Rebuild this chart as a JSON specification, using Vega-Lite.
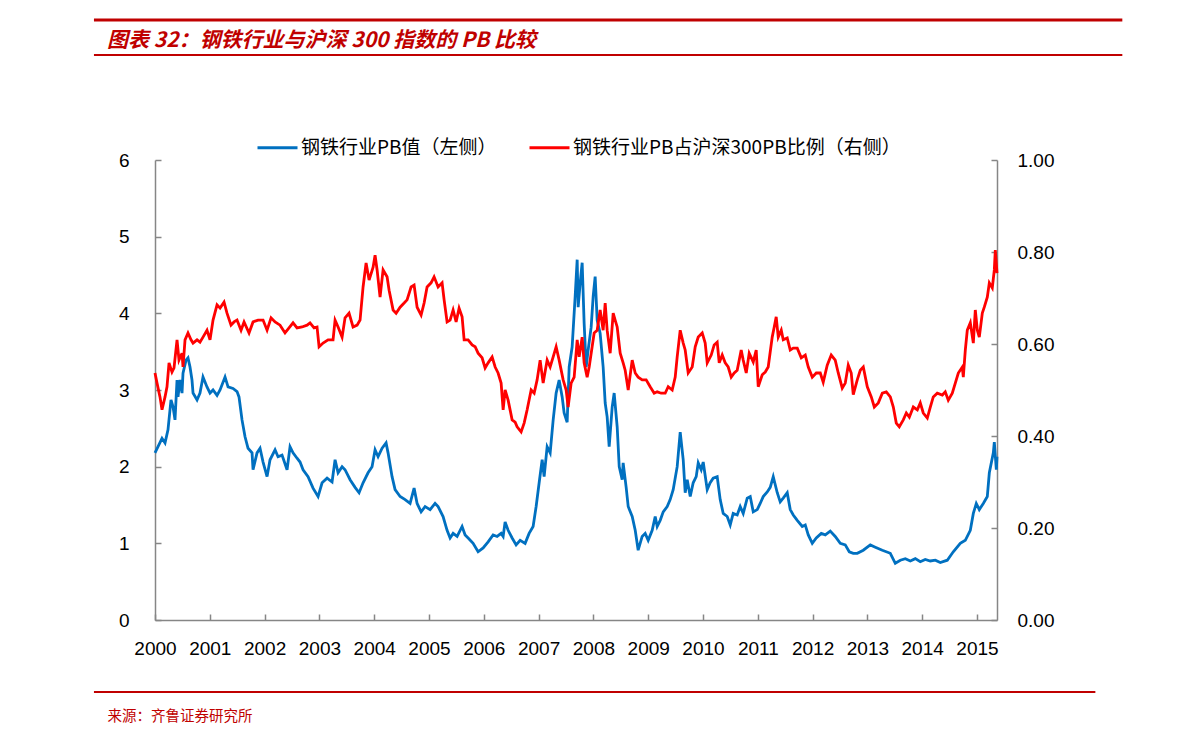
{
  "$schema": "https://vega.github.io/schema/vega-lite/v6.json",
  "width": 842,
  "height": 460,
  "autosize": "none",
  "padding": {"left": 155, "top": 160, "right": 194, "bottom": 122},
  "background": "white",
  "config": {"view": {"stroke": null}},
  "title": {
    "text": "图表 32：钢铁行业与沪深 300 指数的 PB 比较",
    "anchor": "start",
    "frame": "group",
    "dx": -48,
    "offset": 0,
    "dy": 49,
    "baseline": "alphabetic",
    "font": "Noto Sans CJK SC",
    "fontSize": 21,
    "fontWeight": "bold",
    "fontStyle": "italic",
    "color": "#C00000"
  },
  "datasets": {
    "pb": [
      {"t":2000.000,"v":2.18},{"t":2000.055,"v":2.26},{"t":2000.128,"v":2.37},{"t":2000.183,"v":2.31},{"t":2000.237,"v":2.48},{"t":2000.292,"v":2.87},{"t":2000.329,"v":2.78},{"t":2000.365,"v":2.61},{"t":2000.402,"v":3.13},{"t":2000.420,"v":2.91},{"t":2000.456,"v":3.13},{"t":2000.493,"v":2.96},{"t":2000.511,"v":3.22},{"t":2000.566,"v":3.39},{"t":2000.602,"v":3.42},{"t":2000.639,"v":3.30},{"t":2000.675,"v":3.13},{"t":2000.694,"v":2.96},{"t":2000.767,"v":2.87},{"t":2000.821,"v":2.96},{"t":2000.876,"v":3.17},{"t":2000.949,"v":3.04},{"t":2001.004,"v":2.96},{"t":2001.059,"v":3.00},{"t":2001.132,"v":2.93},{"t":2001.187,"v":3.00},{"t":2001.278,"v":3.17},{"t":2001.333,"v":3.04},{"t":2001.424,"v":3.02},{"t":2001.497,"v":2.98},{"t":2001.533,"v":2.91},{"t":2001.588,"v":2.61},{"t":2001.643,"v":2.39},{"t":2001.698,"v":2.24},{"t":2001.771,"v":2.18},{"t":2001.789,"v":1.96},{"t":2001.862,"v":2.18},{"t":2001.917,"v":2.24},{"t":2001.972,"v":2.06},{"t":2002.045,"v":1.87},{"t":2002.099,"v":2.09},{"t":2002.191,"v":2.22},{"t":2002.245,"v":2.13},{"t":2002.318,"v":2.15},{"t":2002.410,"v":1.96},{"t":2002.464,"v":2.26},{"t":2002.519,"v":2.18},{"t":2002.592,"v":2.11},{"t":2002.647,"v":2.06},{"t":2002.702,"v":1.96},{"t":2002.793,"v":1.87},{"t":2002.884,"v":1.72},{"t":2002.976,"v":1.61},{"t":2003.049,"v":1.79},{"t":2003.140,"v":1.85},{"t":2003.231,"v":1.80},{"t":2003.286,"v":2.09},{"t":2003.341,"v":1.92},{"t":2003.414,"v":2.00},{"t":2003.468,"v":1.96},{"t":2003.560,"v":1.83},{"t":2003.651,"v":1.73},{"t":2003.724,"v":1.66},{"t":2003.797,"v":1.79},{"t":2003.888,"v":1.92},{"t":2003.961,"v":2.00},{"t":2004.016,"v":2.22},{"t":2004.071,"v":2.13},{"t":2004.144,"v":2.24},{"t":2004.217,"v":2.31},{"t":2004.253,"v":2.18},{"t":2004.326,"v":1.87},{"t":2004.381,"v":1.70},{"t":2004.473,"v":1.61},{"t":2004.564,"v":1.57},{"t":2004.655,"v":1.52},{"t":2004.728,"v":1.72},{"t":2004.783,"v":1.52},{"t":2004.856,"v":1.41},{"t":2004.929,"v":1.48},{"t":2005.020,"v":1.44},{"t":2005.111,"v":1.52},{"t":2005.166,"v":1.48},{"t":2005.257,"v":1.35},{"t":2005.330,"v":1.17},{"t":2005.385,"v":1.07},{"t":2005.440,"v":1.13},{"t":2005.513,"v":1.09},{"t":2005.604,"v":1.22},{"t":2005.659,"v":1.11},{"t":2005.714,"v":1.07},{"t":2005.805,"v":1.00},{"t":2005.896,"v":0.89},{"t":2005.988,"v":0.94},{"t":2006.079,"v":1.02},{"t":2006.170,"v":1.11},{"t":2006.243,"v":1.09},{"t":2006.316,"v":1.13},{"t":2006.353,"v":1.09},{"t":2006.389,"v":1.28},{"t":2006.444,"v":1.17},{"t":2006.517,"v":1.07},{"t":2006.590,"v":0.98},{"t":2006.663,"v":1.04},{"t":2006.754,"v":1.00},{"t":2006.827,"v":1.13},{"t":2006.900,"v":1.22},{"t":2006.955,"v":1.48},{"t":2007.010,"v":1.79},{"t":2007.065,"v":2.09},{"t":2007.101,"v":1.87},{"t":2007.156,"v":2.26},{"t":2007.211,"v":2.18},{"t":2007.266,"v":2.61},{"t":2007.320,"v":2.96},{"t":2007.375,"v":3.13},{"t":2007.430,"v":2.91},{"t":2007.466,"v":2.70},{"t":2007.521,"v":2.58},{"t":2007.558,"v":3.30},{"t":2007.612,"v":3.56},{"t":2007.667,"v":4.22},{"t":2007.704,"v":4.70},{"t":2007.722,"v":4.08},{"t":2007.758,"v":4.39},{"t":2007.795,"v":4.66},{"t":2007.831,"v":3.87},{"t":2007.868,"v":3.30},{"t":2007.904,"v":3.52},{"t":2007.959,"v":3.82},{"t":2007.996,"v":4.22},{"t":2008.032,"v":4.48},{"t":2008.069,"v":3.91},{"t":2008.123,"v":3.74},{"t":2008.178,"v":3.30},{"t":2008.215,"v":2.83},{"t":2008.251,"v":2.65},{"t":2008.288,"v":2.26},{"t":2008.343,"v":2.78},{"t":2008.379,"v":2.96},{"t":2008.434,"v":2.52},{"t":2008.471,"v":2.00},{"t":2008.525,"v":1.83},{"t":2008.543,"v":2.05},{"t":2008.598,"v":1.73},{"t":2008.635,"v":1.48},{"t":2008.708,"v":1.35},{"t":2008.763,"v":1.17},{"t":2008.817,"v":0.91},{"t":2008.890,"v":1.09},{"t":2008.945,"v":1.13},{"t":2009.000,"v":1.04},{"t":2009.073,"v":1.17},{"t":2009.128,"v":1.35},{"t":2009.164,"v":1.22},{"t":2009.219,"v":1.30},{"t":2009.274,"v":1.41},{"t":2009.347,"v":1.48},{"t":2009.401,"v":1.57},{"t":2009.456,"v":1.70},{"t":2009.529,"v":2.00},{"t":2009.584,"v":2.45},{"t":2009.639,"v":2.09},{"t":2009.675,"v":1.66},{"t":2009.712,"v":1.83},{"t":2009.767,"v":1.61},{"t":2009.821,"v":1.79},{"t":2009.876,"v":1.87},{"t":2009.913,"v":2.05},{"t":2009.967,"v":1.96},{"t":2010.004,"v":2.06},{"t":2010.077,"v":1.70},{"t":2010.131,"v":1.79},{"t":2010.186,"v":1.85},{"t":2010.259,"v":1.87},{"t":2010.314,"v":1.57},{"t":2010.369,"v":1.39},{"t":2010.442,"v":1.35},{"t":2010.497,"v":1.24},{"t":2010.551,"v":1.39},{"t":2010.624,"v":1.37},{"t":2010.679,"v":1.48},{"t":2010.734,"v":1.39},{"t":2010.807,"v":1.59},{"t":2010.862,"v":1.61},{"t":2010.917,"v":1.41},{"t":2010.990,"v":1.44},{"t":2011.044,"v":1.52},{"t":2011.099,"v":1.61},{"t":2011.172,"v":1.67},{"t":2011.227,"v":1.73},{"t":2011.282,"v":1.87},{"t":2011.355,"v":1.66},{"t":2011.409,"v":1.54},{"t":2011.464,"v":1.59},{"t":2011.537,"v":1.66},{"t":2011.592,"v":1.44},{"t":2011.647,"v":1.37},{"t":2011.720,"v":1.30},{"t":2011.811,"v":1.22},{"t":2011.866,"v":1.24},{"t":2011.921,"v":1.11},{"t":2011.994,"v":1.00},{"t":2012.067,"v":1.07},{"t":2012.158,"v":1.13},{"t":2012.231,"v":1.11},{"t":2012.322,"v":1.16},{"t":2012.413,"v":1.09},{"t":2012.505,"v":1.00},{"t":2012.596,"v":0.98},{"t":2012.669,"v":0.89},{"t":2012.742,"v":0.87},{"t":2012.815,"v":0.87},{"t":2012.925,"v":0.91},{"t":2013.053,"v":0.98},{"t":2013.144,"v":0.95},{"t":2013.272,"v":0.91},{"t":2013.418,"v":0.87},{"t":2013.509,"v":0.74},{"t":2013.601,"v":0.78},{"t":2013.692,"v":0.80},{"t":2013.783,"v":0.77},{"t":2013.874,"v":0.80},{"t":2013.965,"v":0.76},{"t":2014.056,"v":0.79},{"t":2014.148,"v":0.77},{"t":2014.239,"v":0.78},{"t":2014.330,"v":0.75},{"t":2014.458,"v":0.78},{"t":2014.567,"v":0.89},{"t":2014.695,"v":1.00},{"t":2014.787,"v":1.04},{"t":2014.878,"v":1.17},{"t":2014.933,"v":1.39},{"t":2014.987,"v":1.52},{"t":2015.042,"v":1.44},{"t":2015.115,"v":1.52},{"t":2015.188,"v":1.61},{"t":2015.225,"v":1.92},{"t":2015.298,"v":2.18},{"t":2015.316,"v":2.32},{"t":2015.353,"v":1.96},{"t":2015.365,"v":2.13}
    ],
    "ratio": [
      {"t":2000.000,"v":0.537},{"t":2000.037,"v":0.515},{"t":2000.091,"v":0.485},{"t":2000.128,"v":0.457},{"t":2000.183,"v":0.485},{"t":2000.219,"v":0.507},{"t":2000.256,"v":0.559},{"t":2000.310,"v":0.539},{"t":2000.347,"v":0.548},{"t":2000.402,"v":0.609},{"t":2000.438,"v":0.565},{"t":2000.493,"v":0.580},{"t":2000.511,"v":0.550},{"t":2000.548,"v":0.609},{"t":2000.602,"v":0.624},{"t":2000.657,"v":0.609},{"t":2000.694,"v":0.602},{"t":2000.767,"v":0.609},{"t":2000.821,"v":0.604},{"t":2000.876,"v":0.615},{"t":2000.949,"v":0.630},{"t":2001.004,"v":0.609},{"t":2001.059,"v":0.652},{"t":2001.132,"v":0.685},{"t":2001.187,"v":0.678},{"t":2001.260,"v":0.691},{"t":2001.314,"v":0.667},{"t":2001.387,"v":0.641},{"t":2001.442,"v":0.648},{"t":2001.497,"v":0.652},{"t":2001.570,"v":0.630},{"t":2001.625,"v":0.648},{"t":2001.716,"v":0.624},{"t":2001.789,"v":0.648},{"t":2001.880,"v":0.652},{"t":2001.972,"v":0.652},{"t":2002.045,"v":0.630},{"t":2002.118,"v":0.657},{"t":2002.191,"v":0.648},{"t":2002.282,"v":0.641},{"t":2002.373,"v":0.624},{"t":2002.446,"v":0.635},{"t":2002.519,"v":0.646},{"t":2002.592,"v":0.635},{"t":2002.683,"v":0.637},{"t":2002.775,"v":0.641},{"t":2002.829,"v":0.646},{"t":2002.903,"v":0.635},{"t":2002.957,"v":0.637},{"t":2002.994,"v":0.594},{"t":2003.067,"v":0.602},{"t":2003.158,"v":0.609},{"t":2003.249,"v":0.609},{"t":2003.286,"v":0.652},{"t":2003.341,"v":0.637},{"t":2003.414,"v":0.615},{"t":2003.468,"v":0.657},{"t":2003.541,"v":0.667},{"t":2003.614,"v":0.637},{"t":2003.688,"v":0.641},{"t":2003.742,"v":0.652},{"t":2003.797,"v":0.724},{"t":2003.852,"v":0.776},{"t":2003.907,"v":0.739},{"t":2003.980,"v":0.767},{"t":2004.016,"v":0.793},{"t":2004.053,"v":0.761},{"t":2004.107,"v":0.702},{"t":2004.162,"v":0.761},{"t":2004.235,"v":0.746},{"t":2004.272,"v":0.717},{"t":2004.345,"v":0.674},{"t":2004.400,"v":0.667},{"t":2004.473,"v":0.680},{"t":2004.546,"v":0.689},{"t":2004.600,"v":0.696},{"t":2004.673,"v":0.724},{"t":2004.728,"v":0.728},{"t":2004.783,"v":0.680},{"t":2004.856,"v":0.663},{"t":2004.911,"v":0.689},{"t":2004.965,"v":0.724},{"t":2005.038,"v":0.733},{"t":2005.093,"v":0.746},{"t":2005.166,"v":0.724},{"t":2005.239,"v":0.733},{"t":2005.276,"v":0.696},{"t":2005.330,"v":0.648},{"t":2005.385,"v":0.652},{"t":2005.440,"v":0.674},{"t":2005.495,"v":0.648},{"t":2005.549,"v":0.678},{"t":2005.604,"v":0.659},{"t":2005.641,"v":0.609},{"t":2005.714,"v":0.609},{"t":2005.787,"v":0.598},{"t":2005.842,"v":0.594},{"t":2005.896,"v":0.580},{"t":2005.969,"v":0.570},{"t":2006.024,"v":0.548},{"t":2006.079,"v":0.559},{"t":2006.152,"v":0.572},{"t":2006.207,"v":0.550},{"t":2006.261,"v":0.537},{"t":2006.316,"v":0.515},{"t":2006.353,"v":0.457},{"t":2006.389,"v":0.500},{"t":2006.444,"v":0.478},{"t":2006.517,"v":0.435},{"t":2006.572,"v":0.430},{"t":2006.608,"v":0.420},{"t":2006.681,"v":0.409},{"t":2006.736,"v":0.428},{"t":2006.791,"v":0.457},{"t":2006.864,"v":0.500},{"t":2006.919,"v":0.493},{"t":2006.973,"v":0.522},{"t":2007.028,"v":0.565},{"t":2007.083,"v":0.515},{"t":2007.156,"v":0.565},{"t":2007.211,"v":0.550},{"t":2007.266,"v":0.572},{"t":2007.320,"v":0.594},{"t":2007.375,"v":0.565},{"t":2007.448,"v":0.522},{"t":2007.503,"v":0.500},{"t":2007.539,"v":0.463},{"t":2007.594,"v":0.515},{"t":2007.649,"v":0.528},{"t":2007.704,"v":0.609},{"t":2007.740,"v":0.572},{"t":2007.795,"v":0.615},{"t":2007.831,"v":0.559},{"t":2007.886,"v":0.528},{"t":2007.923,"v":0.550},{"t":2007.977,"v":0.594},{"t":2008.014,"v":0.624},{"t":2008.069,"v":0.630},{"t":2008.123,"v":0.674},{"t":2008.178,"v":0.630},{"t":2008.215,"v":0.689},{"t":2008.251,"v":0.630},{"t":2008.306,"v":0.580},{"t":2008.361,"v":0.667},{"t":2008.397,"v":0.652},{"t":2008.434,"v":0.637},{"t":2008.489,"v":0.580},{"t":2008.543,"v":0.559},{"t":2008.580,"v":0.543},{"t":2008.635,"v":0.500},{"t":2008.708,"v":0.565},{"t":2008.763,"v":0.537},{"t":2008.817,"v":0.528},{"t":2008.890,"v":0.522},{"t":2008.963,"v":0.522},{"t":2009.036,"v":0.507},{"t":2009.109,"v":0.493},{"t":2009.164,"v":0.496},{"t":2009.237,"v":0.493},{"t":2009.310,"v":0.493},{"t":2009.365,"v":0.507},{"t":2009.438,"v":0.500},{"t":2009.493,"v":0.528},{"t":2009.529,"v":0.572},{"t":2009.584,"v":0.630},{"t":2009.639,"v":0.602},{"t":2009.675,"v":0.587},{"t":2009.730,"v":0.537},{"t":2009.803,"v":0.550},{"t":2009.858,"v":0.594},{"t":2009.913,"v":0.615},{"t":2009.986,"v":0.624},{"t":2010.040,"v":0.602},{"t":2010.077,"v":0.559},{"t":2010.150,"v":0.576},{"t":2010.204,"v":0.598},{"t":2010.259,"v":0.604},{"t":2010.296,"v":0.559},{"t":2010.351,"v":0.576},{"t":2010.405,"v":0.559},{"t":2010.460,"v":0.550},{"t":2010.515,"v":0.528},{"t":2010.570,"v":0.537},{"t":2010.624,"v":0.543},{"t":2010.697,"v":0.587},{"t":2010.734,"v":0.565},{"t":2010.789,"v":0.537},{"t":2010.843,"v":0.580},{"t":2010.917,"v":0.561},{"t":2010.971,"v":0.587},{"t":2011.008,"v":0.507},{"t":2011.081,"v":0.533},{"t":2011.136,"v":0.539},{"t":2011.190,"v":0.550},{"t":2011.263,"v":0.615},{"t":2011.300,"v":0.637},{"t":2011.336,"v":0.659},{"t":2011.373,"v":0.615},{"t":2011.428,"v":0.630},{"t":2011.464,"v":0.609},{"t":2011.537,"v":0.613},{"t":2011.592,"v":0.587},{"t":2011.647,"v":0.591},{"t":2011.720,"v":0.591},{"t":2011.793,"v":0.570},{"t":2011.866,"v":0.576},{"t":2011.921,"v":0.550},{"t":2011.994,"v":0.528},{"t":2012.067,"v":0.537},{"t":2012.140,"v":0.537},{"t":2012.194,"v":0.517},{"t":2012.267,"v":0.554},{"t":2012.340,"v":0.576},{"t":2012.413,"v":0.565},{"t":2012.468,"v":0.537},{"t":2012.541,"v":0.504},{"t":2012.596,"v":0.515},{"t":2012.651,"v":0.554},{"t":2012.705,"v":0.537},{"t":2012.742,"v":0.490},{"t":2012.815,"v":0.522},{"t":2012.870,"v":0.543},{"t":2012.925,"v":0.550},{"t":2012.998,"v":0.507},{"t":2013.071,"v":0.485},{"t":2013.126,"v":0.463},{"t":2013.199,"v":0.472},{"t":2013.272,"v":0.493},{"t":2013.345,"v":0.496},{"t":2013.418,"v":0.485},{"t":2013.473,"v":0.463},{"t":2013.527,"v":0.428},{"t":2013.582,"v":0.420},{"t":2013.655,"v":0.435},{"t":2013.710,"v":0.450},{"t":2013.765,"v":0.441},{"t":2013.838,"v":0.463},{"t":2013.911,"v":0.457},{"t":2013.965,"v":0.472},{"t":2014.020,"v":0.450},{"t":2014.093,"v":0.439},{"t":2014.148,"v":0.463},{"t":2014.202,"v":0.485},{"t":2014.275,"v":0.493},{"t":2014.367,"v":0.489},{"t":2014.421,"v":0.496},{"t":2014.476,"v":0.478},{"t":2014.549,"v":0.493},{"t":2014.604,"v":0.515},{"t":2014.659,"v":0.537},{"t":2014.732,"v":0.550},{"t":2014.750,"v":0.528},{"t":2014.787,"v":0.587},{"t":2014.823,"v":0.630},{"t":2014.878,"v":0.646},{"t":2014.933,"v":0.602},{"t":2014.969,"v":0.674},{"t":2015.006,"v":0.630},{"t":2015.042,"v":0.615},{"t":2015.097,"v":0.667},{"t":2015.133,"v":0.680},{"t":2015.188,"v":0.702},{"t":2015.225,"v":0.733},{"t":2015.279,"v":0.722},{"t":2015.316,"v":0.761},{"t":2015.334,"v":0.804},{"t":2015.365,"v":0.754}
    ]
  },
  "layer": [
    {
      "data": {"name": "pb"},
      "mark": {"type": "line", "strokeWidth": 2.8},
      "encoding": {
        "x": {
          "field": "t", "type": "quantitative",
          "scale": {"domain": [2000, 2015.365], "nice": false, "zero": false},
          "axis": {
            "values": [2000,2001,2002,2003,2004,2005,2006,2007,2008,2009,2010,2011,2012,2013,2014,2015],
            "format": "d", "grid": false, "labelFlush": false, "labelOverlap": false,
            "labelFont": "Liberation Sans", "labelFontSize": 19, "labelColor": "#000000", "labelPadding": 25,
            "tickSize": -6, "tickColor": "#868686", "tickWidth": 1.5,
            "domainColor": "#868686", "domainWidth": 1.5,
            "title": "来源：齐鲁证券研究所",
            "titleFont": "Noto Sans CJK SC", "titleFontSize": 14.5, "titleFontWeight": "normal",
            "titleColor": "#C00000", "titleAnchor": "start", "titleAlign": "left",
            "titleBaseline": "alphabetic", "titleX": -48, "titleY": 100
          }
        },
        "y": {
          "field": "v", "type": "quantitative",
          "scale": {"domain": [0, 6], "nice": false},
          "axis": {
            "orient": "left", "values": [0,1,2,3,4,5,6], "format": "d", "grid": false, "title": null,
            "labelFont": "Liberation Sans", "labelFontSize": 19, "labelColor": "#000000", "labelPadding": 32,
            "tickSize": -6, "tickColor": "#868686", "tickWidth": 1.5,
            "domainColor": "#868686", "domainWidth": 1.5
          }
        },
        "color": {
          "datum": "钢铁行业PB值（左侧）",
          "scale": {"domain": ["钢铁行业PB值（左侧）", "钢铁行业PB占沪深300PB比例（右侧）"], "range": ["#0070C0", "#FF0000"]},
          "legend": {
            "orient": "none", "legendX": 101, "legendY": -34, "direction": "horizontal", "title": null,
            "symbolType": "stroke", "symbolSize": 1600, "symbolStrokeWidth": 3,
            "labelFont": "Noto Sans CJK SC", "labelFontSize": 19, "labelColor": "#000000",
            "labelLimit": 600, "columnPadding": 26, "labelOffset": 2
          }
        }
      }
    },
    {
      "data": {"name": "ratio"},
      "mark": {"type": "line", "strokeWidth": 2.8},
      "encoding": {
        "x": {"field": "t", "type": "quantitative"},
        "y": {
          "field": "v", "type": "quantitative",
          "scale": {"domain": [0, 1], "nice": false},
          "axis": {
            "orient": "right", "values": [0,0.2,0.4,0.6,0.8,1.0], "format": ".2f", "grid": false, "title": null,
            "labelFont": "Liberation Sans", "labelFontSize": 19, "labelColor": "#000000", "labelPadding": 26,
            "tickSize": -6, "tickColor": "#868686", "tickWidth": 1.5,
            "domainColor": "#868686", "domainWidth": 1.5
          }
        },
        "color": {"datum": "钢铁行业PB占沪深300PB比例（右侧）"}
      }
    },
    {
      "data": {"values": [{}]},
      "mark": {"type": "rule", "color": "#C00000", "strokeWidth": 3},
      "encoding": {
        "x": {"datum": 1998.886, "type": "quantitative"},
        "x2": {"datum": 2017.652},
        "y": {"datum": 7.826, "type": "quantitative", "scale": {"domain": [0, 6], "nice": false, "zero": false}, "axis": null}
      }
    },
    {
      "data": {"values": [{}]},
      "mark": {"type": "rule", "color": "#C00000", "strokeWidth": 2},
      "encoding": {
        "x": {"datum": 1998.886, "type": "quantitative"},
        "x2": {"datum": 2017.652},
        "y": {"datum": 7.37, "type": "quantitative", "scale": {"domain": [0, 6], "nice": false, "zero": false}, "axis": null}
      }
    },
    {
      "data": {"values": [{}]},
      "mark": {"type": "rule", "color": "#C00000", "strokeWidth": 2},
      "encoding": {
        "x": {"datum": 1998.886, "type": "quantitative"},
        "x2": {"datum": 2017.16},
        "y": {"datum": -0.939, "type": "quantitative", "scale": {"domain": [0, 6], "nice": false, "zero": false}, "axis": null}
      }
    }
  ],
  "resolve": {"scale": {"y": "independent"}}
}
